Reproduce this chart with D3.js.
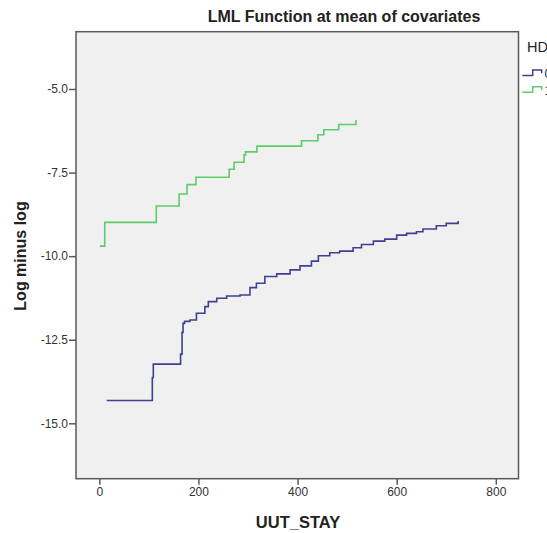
<!DOCTYPE html>
<html>
<head>
<meta charset="utf-8">
<script src="https://cdn.jsdelivr.net/npm/d3@7"></script>
<style>
  body { margin: 0; background: #fff; }
  svg { display: block; font-family: "Liberation Sans", Arial, sans-serif; }
</style>
</head>
<body>
<svg id="chart" width="547" height="533"></svg>
<script>
// step points: [UUT_STAY, log minus log]
var hd0 = [
  [15, -14.32], [107, -13.63], [109, -13.23], [164, -12.93], [167, -12.28],
  [169, -12.01], [172, -11.95], [183, -11.91], [196, -11.71], [213, -11.51],
  [220, -11.36], [237, -11.26], [257, -11.19], [284, -11.16], [304, -10.94],
  [317, -10.81], [334, -10.61], [358, -10.53], [385, -10.41], [405, -10.29],
  [428, -10.15], [442, -9.99], [465, -9.90], [485, -9.85], [512, -9.75],
  [529, -9.65], [553, -9.55], [576, -9.49], [600, -9.37], [620, -9.32],
  [640, -9.27], [653, -9.19], [680, -9.09], [700, -9.02], [724, -8.95]
];
var hd1 = [
  [1, -9.70], [11, -8.99], [115, -8.50], [161, -8.14], [177, -7.86],
  [195, -7.64], [262, -7.40], [272, -7.19], [292, -6.97], [295, -6.88],
  [318, -6.71], [408, -6.55], [441, -6.37], [453, -6.22], [483, -6.06],
  [518, -5.93]
];
var groups = ["0", "1"];
var colors = ["#404090", "#5dcc6a"];
var xTicks = [0, 200, 400, 600, 800];
var yTicks = [-5.0, -7.5, -10.0, -12.5, -15.0];

var svg = d3.select("#chart");
var pLeft = 76, pRight = 518.5, pTop = 31.7, pBottom = 478.7;

var x = d3.scaleLinear().domain([-47, 845.8]).range([pLeft, pRight]);
var y = d3.scaleLinear().domain([-16.657, -3.286]).range([pBottom, pTop]);

svg.append("rect")
  .attr("x", pLeft).attr("y", pTop)
  .attr("width", pRight - pLeft).attr("height", pBottom - pTop)
  .attr("fill", "#f0f0f0");

var line = d3.line()
  .x(function(d) { return x(d[0]); })
  .y(function(d) { return y(d[1]); })
  .curve(d3.curveStepAfter);

[hd0, hd1].forEach(function(s, i) {
  svg.append("path")
    .datum(s)
    .attr("d", line)
    .attr("fill", "none")
    .attr("stroke", colors[i])
    .attr("stroke-width", 1.6);
});

// frame
svg.append("rect")
  .attr("x", pLeft).attr("y", pTop)
  .attr("width", pRight - pLeft).attr("height", pBottom - pTop)
  .attr("fill", "none")
  .attr("stroke", "#5a5a5a")
  .attr("stroke-width", 1.5);

var xAxis = svg.append("g")
  .attr("transform", "translate(0," + pBottom + ")")
  .call(d3.axisBottom(x).tickValues(xTicks).tickSize(6).tickPadding(3));
var yAxis = svg.append("g")
  .attr("transform", "translate(" + pLeft + ",0)")
  .call(d3.axisLeft(y).tickValues(yTicks).tickSize(7).tickPadding(1)
    .tickFormat(d3.format(".1f")));

[xAxis, yAxis].forEach(function(a) {
  a.select(".domain").remove();
  a.selectAll(".tick line").attr("stroke", "#5a5a5a").attr("stroke-width", 1.5);
  a.selectAll(".tick text")
    .attr("fill", "#333")
    .style("font-size", "12px")
    .style("font-family", "'Liberation Sans', Arial, sans-serif");
});
yAxis.selectAll(".tick text").text(function(d) { return d3.format(".1f")(d).replace("−", "-"); });

svg.append("text")
  .attr("x", 344).attr("y", 21.7)
  .attr("text-anchor", "middle")
  .attr("font-weight", "bold")
  .attr("font-size", 16)
  .attr("fill", "#222")
  .text("LML Function at mean of covariates");

svg.append("text")
  .attr("x", 298).attr("y", 528)
  .attr("text-anchor", "middle")
  .attr("font-weight", "bold")
  .attr("font-size", 16.5)
  .attr("fill", "#222")
  .text("UUT_STAY");

svg.append("text")
  .attr("transform", "translate(26,256) rotate(-90)")
  .attr("text-anchor", "middle")
  .attr("font-weight", "bold")
  .attr("font-size", 16)
  .attr("fill", "#222")
  .text("Log minus log");

// legend
svg.append("text")
  .attr("x", 527).attr("y", 52.3)
  .attr("font-size", 14.5)
  .attr("fill", "#222")
  .text("HD");

var icon = [[0, 5.5], [10.4, 5.5], [10.4, 0], [19.4, 0], [19.4, 3.3]];
groups.forEach(function(g, i) {
  var gy = 70 + i * 16.7;
  svg.append("path")
    .attr("d", d3.line()(icon.map(function(p) { return [522.3 + p[0], gy + p[1]]; })))
    .attr("fill", "none")
    .attr("stroke", colors[i])
    .attr("stroke-width", 1.5);
  svg.append("text")
    .attr("x", 544.5).attr("y", gy + 8)
    .attr("font-size", 12)
    .attr("fill", "#222")
    .text(g);
});
</script>
</body>
</html>
